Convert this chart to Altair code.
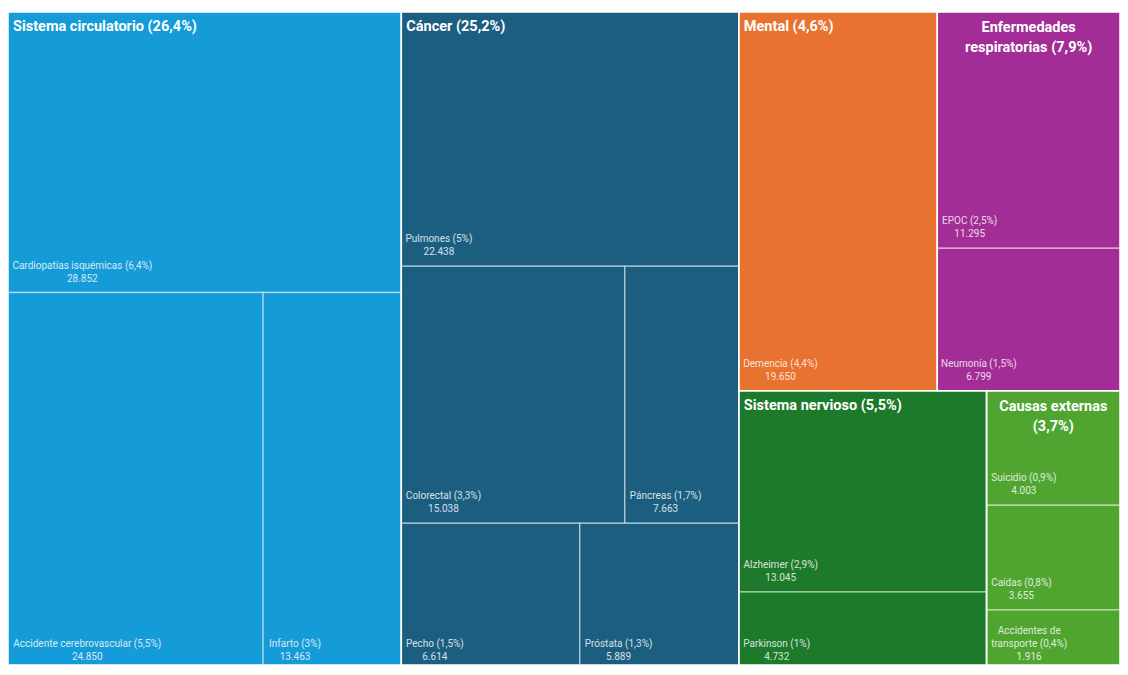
import altair as alt
import pandas as pd

# ---------------- data ----------------
groups = ["Sistema circulatorio", "Cáncer", "Mental", "Enfermedades respiratorias",
          "Sistema nervioso", "Causas externas"]
group_pct = [26.4, 25.2, 4.6, 7.9, 5.5, 3.7]
group_colors = ["#159BD7", "#1B5E80", "#E8722F", "#A22D96", "#1D7A2B", "#4FA52F"]

child_group = [0, 0, 0, 1, 1, 1, 1, 1, 2, 3, 3, 4, 4, 5, 5, 5]
child_names = ["Cardiopatías isquémicas", "Accidente cerebrovascular", "Infarto",
               "Pulmones", "Colorectal", "Páncreas", "Pecho", "Próstata",
               "Demencia", "EPOC", "Neumonía", "Alzheimer", "Parkinson",
               "Suicidio", "Caídas", "Accidentes de transporte"]
child_values = [28852, 24850, 13463, 22438, 15038, 7663, 6614, 5889,
                19650, 11295, 6799, 13045, 4732, 4003, 3655, 1916]
child_pct = [6.4, 5.5, 3, 5, 3.3, 1.7, 1.5, 1.3, 4.4, 2.5, 1.5, 2.9, 1, 0.9, 0.8, 0.4]

W, H = 1112, 653
LH = 13   # child label line height
FS = 10   # child label font size


# ---------------- squarified treemap layout (d3-style) ----------------
def squarify(values, x0, y0, x1, y1, ratio=1.12):
    rects = [None] * len(values)
    n = len(values)
    i0 = i1 = 0
    value = float(sum(values))
    while i0 < n:
        dx, dy = x1 - x0, y1 - y0
        sumv = values[i1]
        i1 += 1
        minv = maxv = sumv
        alpha = max(dy / dx, dx / dy) / (value * ratio)
        beta = sumv * sumv * alpha
        minr = max(maxv / beta, beta / minv)
        while i1 < n:
            nv = values[i1]
            s2 = sumv + nv
            mn, mx = min(minv, nv), max(maxv, nv)
            beta = s2 * s2 * alpha
            nr = max(mx / beta, beta / mn)
            if nr > minr:
                break
            sumv, minv, maxv, minr = s2, mn, mx, nr
            i1 += 1
        idx = list(range(i0, i1))
        if dx < dy:
            ny = y0 + dy * sumv / value
            cx = x0
            for k in idx:
                w = dx * values[k] / sumv
                rects[k] = (cx, y0, cx + w, ny)
                cx += w
            y0 = ny
        else:
            nx = x0 + dx * sumv / value
            cy = y0
            for k in idx:
                h = dy * values[k] / sumv
                rects[k] = (x0, cy, nx, cy + h)
                cy += h
            x0 = nx
        value -= sumv
        i0 = i1
    return rects


def fmt_pct(p):
    if float(p).is_integer():
        return f"{int(p)}%"
    return f"{p}".replace(".", ",") + "%"


def fmt_int(v):
    return f"{v:,}".replace(",", ".")


def text_w(s, size, bold=False):
    narrow = set("iljí.,:;' |")
    semi = set("tfr()-[]")
    wide = set("mwMW%")
    w = 0.0
    for ch in s:
        if ch in narrow:
            w += 0.25
        elif ch in semi:
            w += 0.34
        elif ch in wide:
            w += 0.82
        elif ch.isupper():
            w += 0.64
        elif ch.isdigit():
            w += 0.56
        else:
            w += 0.54
    return w * size * (1.06 if bold else 1.0)


def balanced_wrap(s, size, avail, bold=False):
    if text_w(s, size, bold) <= avail:
        return [s]
    words = s.split(" ")
    best = None
    for k in range(1, len(words)):
        a, b = " ".join(words[:k]), " ".join(words[k:])
        m = max(len(a), len(b))
        if best is None or m <= best[0]:
            best = (m, [a, b])
    return best[1]


gvals = [sum(v for v, g in zip(child_values, child_group) if g == gi) for gi in range(len(groups))]
grects = squarify(gvals, 0, 0, W, H)

cell_rows, label_rows = [], []
for gi, (gx0, gy0, gx1, gy1) in enumerate(grects):
    idx = [i for i, g in enumerate(child_group) if g == gi]
    crs = squarify([child_values[i] for i in idx], gx0, gy0, gx1, gy1)
    for i, (cx0, cy0, cx1, cy1) in zip(idx, crs):
        cell_rows.append(dict(x0=cx0, x1=cx1, y0=cy0, y1=cy1, group=groups[gi]))
        lines = balanced_wrap(f"{child_names[i]} ({fmt_pct(child_pct[i])})", FS, cx1 - cx0 - 8)
        lines.append(fmt_int(child_values[i]))
        bw = max(text_w(l, FS) for l in lines)
        off = 3 if cy1 >= H - 0.5 else 9
        # first line's bottom; the following lines flow below it
        label_rows.append(dict(lx=cx0 + 4 + bw / 2,
                               ly=cy1 - off - LH * (len(lines) - 1),
                               label="\n".join(lines)))

cells = pd.DataFrame(cell_rows)
labels = pd.DataFrame(label_rows)

grp_rows, head_left, head_center = [], [], []
for gi, (gx0, gy0, gx1, gy1) in enumerate(grects):
    grp_rows.append(dict(x0=gx0, x1=gx1, y0=gy0, y1=gy1))
    lines = balanced_wrap(f"{groups[gi]} ({fmt_pct(group_pct[gi])})", 14.5, gx1 - gx0 - 10, bold=True)
    if len(lines) == 1:
        head_left.append(dict(hx=gx0 + 5, hy=gy0 + 8, head=lines[0]))
    else:
        head_center.append(dict(hx=(gx0 + gx1) / 2, hy=gy0 + 9, head="\n".join(lines)))
grp_df = pd.DataFrame(grp_rows)
hl = pd.DataFrame(head_left)
hc = pd.DataFrame(head_center)

xs = alt.Scale(domain=[0, W], nice=False, zero=False)
ys = alt.Scale(domain=[0, H], nice=False, zero=False, reverse=True)

rects = alt.Chart(cells).mark_rect(stroke="white", strokeWidth=1.5, strokeOpacity=0.45).encode(
    x=alt.X("x0:Q", scale=xs, axis=None),
    x2="x1:Q",
    y=alt.Y("y0:Q", scale=ys, axis=None),
    y2="y1:Q",
    color=alt.Color("group:N", scale=alt.Scale(domain=groups, range=group_colors), legend=None),
)

outlines = alt.Chart(grp_df).mark_rect(fill=None, stroke="white", strokeWidth=1.5, strokeOpacity=0.85).encode(
    x=alt.X("x0:Q", scale=xs, axis=None),
    x2="x1:Q",
    y=alt.Y("y0:Q", scale=ys, axis=None),
    y2="y1:Q",
)

child_text = alt.Chart(labels).mark_text(
    font="Roboto", fontSize=FS, color="white", opacity=0.8, align="center",
    baseline="bottom", lineBreak="\n", lineHeight=LH,
).encode(
    x=alt.X("lx:Q", scale=xs, axis=None),
    y=alt.Y("ly:Q", scale=ys, axis=None),
    text="label:N",
)

head_l = alt.Chart(hl).mark_text(
    font="Roboto", fontSize=14.5, fontWeight="bold", color="white", align="left",
    baseline="top",
).encode(
    x=alt.X("hx:Q", scale=xs, axis=None),
    y=alt.Y("hy:Q", scale=ys, axis=None),
    text="head:N",
)

head_c = alt.Chart(hc).mark_text(
    font="Roboto", fontSize=14.5, fontWeight="bold", color="white", align="center",
    baseline="top", lineBreak="\n", lineHeight=20,
).encode(
    x=alt.X("hx:Q", scale=xs, axis=None),
    y=alt.Y("hy:Q", scale=ys, axis=None),
    text="head:N",
)

chart = alt.layer(rects, outlines, child_text, head_l, head_c).properties(
    width=W, height=H,
    padding={"top": 4, "left": 0, "right": 0, "bottom": 0},
    autosize=alt.AutoSizeParams(type="none"),
).configure_view(stroke=None)

chart.save("out.html", embed_options={"renderer": "svg", "actions": False})
